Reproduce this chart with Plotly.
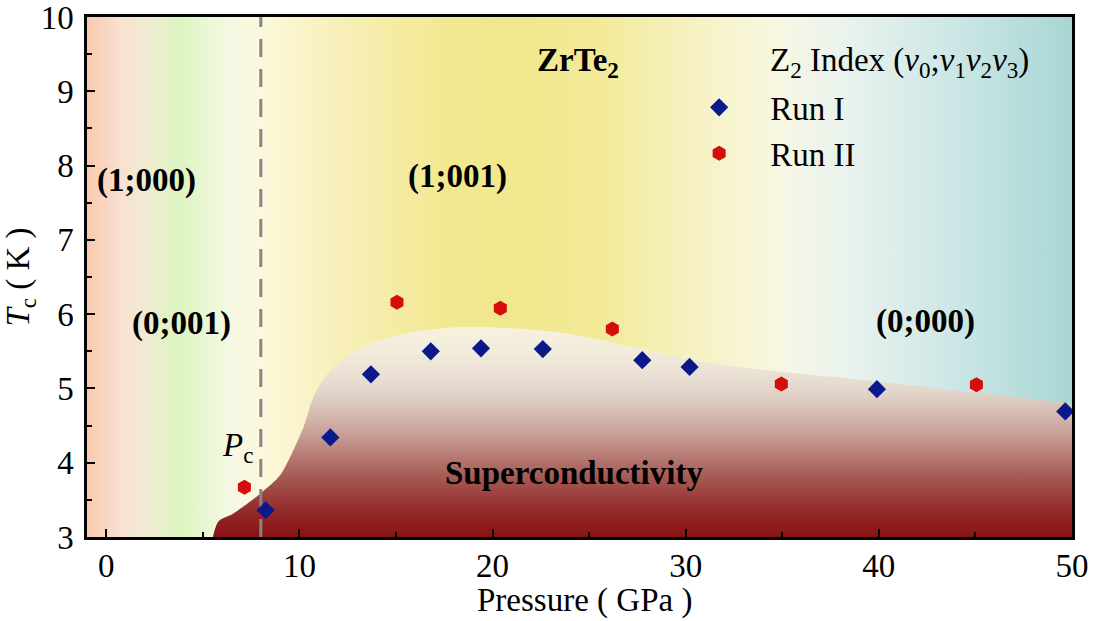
import plotly.graph_objects as go

# Measured Tc data (pressure in GPa, Tc in K)
run1_p = [8.25, 11.6, 13.7, 16.8, 19.4, 22.6, 27.75, 30.2, 39.9, 49.65]
run1_tc = [3.36, 4.34, 5.19, 5.50, 5.54, 5.53, 5.38, 5.29, 4.99, 4.69]
run2_p = [7.15, 15.05, 20.4, 26.2, 34.95, 45.05]
run2_tc = [3.67, 6.16, 6.08, 5.80, 5.06, 5.05]

# Upper boundary of the superconducting dome
sc_p = [5.75, 5.75, 6.6, 8.0, 9.0, 9.6, 10.2, 10.8, 11.6, 12.5, 13.6, 15.9,
        18.5, 21.0, 23.6, 26.2, 28.8, 31.8, 40.0, 50.0, 52.0]
sc_tc = [2.5, 3.19, 3.32, 3.59, 3.83, 4.12, 4.47, 4.93, 5.24, 5.44, 5.6, 5.76,
         5.83, 5.81, 5.75, 5.62, 5.47, 5.32, 5.09, 4.80, 4.74]

p_c = 8.0
x_range = [-1, 50]
y_range = [3, 10]

FONT = "Liberation Serif, Times New Roman, Times, serif"
FS = 33

fig = go.Figure()

# Topological phase background (horizontal colour gradient)
bg_stops = [
    (-1.0, "#f8c9ae"), (0.7, "#f9e0d0"), (2.0, "#f2ead4"), (3.8, "#ddf5c0"),
    (6.4, "#f5f8e4"), (8.0, "#fcf8dc"), (11.6, "#f8f0bc"), (17.8, "#f2e890"),
    (21.4, "#f1e78c"), (25.5, "#f2ea98"), (30.7, "#f6f2c4"), (35.0, "#f7f7e4"),
    (38.5, "#e8f2ee"), (43.7, "#cde7e6"), (50.0, "#a8d6d4"),
]
bg_scale = [[(p - x_range[0]) / (x_range[1] - x_range[0]), c] for p, c in bg_stops]
fig.add_trace(go.Scatter(
    x=[x_range[0], x_range[1], x_range[1], x_range[0], x_range[0]],
    y=[y_range[0], y_range[0], y_range[1], y_range[1], y_range[0]],
    mode="lines", line=dict(width=0), fill="toself",
    fillgradient=dict(type="horizontal", colorscale=bg_scale,
                      start=x_range[0], stop=x_range[1]),
    hoverinfo="skip", showlegend=False,
))

# Superconducting region (vertical colour gradient)
sc_x = sc_p + [52.0, 5.75]
sc_y = sc_tc + [2.5, 2.5]
sc_scale = [[0.0, "#8a1214"], [0.12, "#922a2a"], [0.3, "#a85e58"],
            [0.5, "#c9a39b"], [0.7, "#e4d8cd"], [0.88, "#f2ecdc"], [1.0, "#f7f2de"]]
fig.add_trace(go.Scatter(
    x=sc_x, y=sc_y, mode="lines",
    line=dict(width=0, shape="spline", smoothing=0.8),
    fill="toself",
    fillgradient=dict(type="vertical", colorscale=sc_scale, start=3.0, stop=5.83),
    hoverinfo="skip", showlegend=False,
))

# Critical pressure marker
fig.add_trace(go.Scatter(
    x=[p_c, p_c], y=y_range, mode="lines",
    line=dict(color="#858585", width=3, dash="18px,12px"),
    hoverinfo="skip", showlegend=False,
))

fig.add_trace(go.Scatter(
    x=run1_p, y=run1_tc, mode="markers", name="Run I",
    marker=dict(symbol="diamond", size=14, color="#0a1a8c"),
))
fig.add_trace(go.Scatter(
    x=run2_p, y=run2_tc, mode="markers", name="Run II",
    marker=dict(symbol="hexagon", size=15, color="#d40d0d"),
))

bold = dict(family=FONT, size=FS, color="black")
labels = [
    (2.1, 7.8, "<b>(1;000)</b>"),
    (3.9, 5.88, "<b>(0;001)</b>"),
    (18.2, 7.85, "<b>(1;001)</b>"),
    (42.4, 5.9, "<b>(0;000)</b>"),
    (24.2, 3.86, "<b>Superconductivity</b>"),
    (24.4, 9.39, "<b>ZrTe<sub>2</sub></b>"),
]
for x, y, t in labels:
    fig.add_annotation(x=x, y=y, text=t, showarrow=False, font=bold,
                       xanchor="center", yanchor="middle")

fig.add_annotation(x=6.8, y=4.2, text="<i>P</i><sub>c</sub>", showarrow=False,
                   font=dict(family=FONT, size=FS, color="black"))
fig.add_annotation(
    x=34.25, y=9.39, xanchor="left", yanchor="middle", showarrow=False,
    text="Z<sub>2</sub> Index (<i>v</i><sub>0</sub>;<i>v</i><sub>1</sub>"
         "<i>v</i><sub>2</sub><i>v</i><sub>3</sub>)",
    font=dict(family=FONT, size=FS, color="black"),
)
# x-axis title
fig.add_annotation(
    xref="paper", yref="paper", x=0.505, y=0, yshift=-63,
    xanchor="center", yanchor="middle", showarrow=False,
    text="Pressure ( GPa )", font=dict(family=FONT, size=FS, color="black"),
)

axis_common = dict(
    showline=True, linecolor="black", linewidth=2.5, mirror=True,
    ticks="inside", ticklen=8, tickwidth=2, tickcolor="black",
    showgrid=False, zeroline=False, ticklabeloverflow="allow",
    automargin=False,
    tickfont=dict(family=FONT, size=FS, color="black"),
)

fig.update_xaxes(
    range=x_range, tickvals=[0, 10, 20, 30, 40, 50],
    minor=dict(tickvals=[5, 15, 25, 35, 45], ticks="inside", ticklen=5,
               tickwidth=2, tickcolor="black"),
    ticklabelstandoff=-2,
    **axis_common,
)
fig.update_yaxes(
    range=y_range, tickvals=[3, 4, 5, 6, 7, 8, 9, 10],
    minor=dict(tickvals=[3.5, 4.5, 5.5, 6.5, 7.5, 8.5, 9.5], ticks="inside",
               ticklen=5, tickwidth=2, tickcolor="black"),
    title=dict(text="<i>T</i><sub>c</sub> ( K )", font=dict(family=FONT, size=FS),
               standoff=11),
    ticklabelstandoff=4,
    **axis_common,
)

fig.update_layout(
    width=1096, height=621,
    margin=dict(l=87, r=24, t=17, b=84),
    paper_bgcolor="white", plot_bgcolor="white",
    font=dict(family=FONT, size=FS, color="black"),
    showlegend=True,
    legend=dict(x=0.590, y=0.88, xanchor="left", yanchor="top",
                bgcolor="rgba(0,0,0,0)", font=dict(family=FONT, size=FS),
                itemwidth=92, tracegroupgap=0),
)

fig.write_html("out.html")
